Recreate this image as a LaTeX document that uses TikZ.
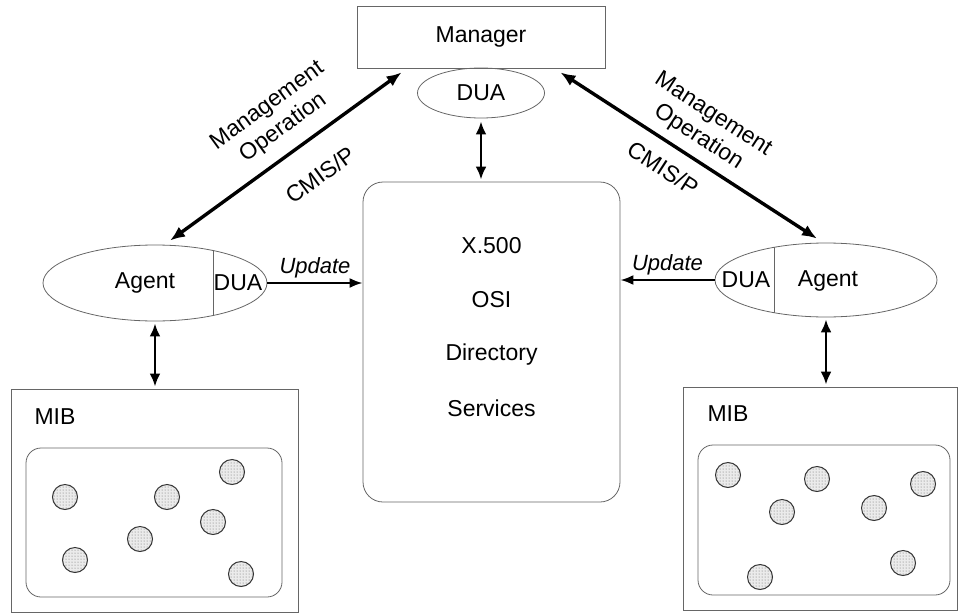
\documentclass[tikz,border=0pt]{standalone}
\usepackage{fontspec}
\setmainfont{Liberation Sans}
\usetikzlibrary{calc,patterns,shapes.geometric,arrows.meta}

\begin{document}
\begin{tikzpicture}[x=1pt, y=-1pt,
		font=\fontsize{23}{27}\selectfont,
		thinline/.style={draw=black!60, line width=0.8pt},
		box/.style={thinline, rectangle, inner sep=0pt},
		agentshape/.style={thinline, ellipse, inner sep=0pt, minimum width=224pt, minimum height=76pt},
		bigarrow/.style={line width=3.4pt, {Latex[length=15pt,width=12pt]}-{Latex[length=15pt,width=12pt]}},
		vertarrow/.style={line width=2.6pt, {Latex[length=13pt,width=11pt]}-{Latex[length=13pt,width=11pt]}},
		updarrow/.style={line width=2.2pt, -{Latex[length=13pt,width=10pt]}},
		mibobj/.style={draw=black!80, line width=1pt, fill=black!8, postaction={pattern=dots, pattern color=black!60}}]
			%%%%% START %%%%%
			\useasboundingbox (0, 0) rectangle (960, 613);
			
			% manager and its DUA
			\node[box, minimum width=248pt, minimum height=62pt] (manager) at (481, 37) {Manager};
			\node[thinline, ellipse, inner sep=0pt, minimum width=127pt, minimum height=50pt] (duaM) at (481, 93) {DUA};
			
			% directory
			\node[box, rounded corners=20pt, minimum width=257pt, minimum height=320pt] (dir) at (491.5, 342) {};
			\node (x500) at (491.5, 246) {X.500};
			\node (osi) at (491.5, 300) {OSI};
			\node (directory) at (491.5, 355) {Directory};
			\node (services) at (491.5, 408) {Services};
			\draw[vertarrow, shorten <=3pt, shorten >=2pt] (duaM.south) -- (duaM.south |- dir.north);
			
			% left agent
			\node[agentshape] (agentL) at (155, 283) {};
			\node (agentLtxt) at (145, 283) {Agent};
			\node (duaL) at (238, 283) {DUA};
			\begin{scope}
				\clip (agentL.center) ellipse [x radius=112, y radius=38];
				\draw[thinline] (213, 240) -- (213, 330);
			\end{scope}
			
			% right agent
			\node[agentshape, minimum width=222pt, minimum height=74pt] (agentR) at (826, 280) {};
			\node (agentRtxt) at (828, 281) {Agent};
			\node (duaR) at (746, 280) {DUA};
			\begin{scope}
				\clip (agentR.center) ellipse [x radius=111, y radius=37];
				\draw[thinline] (774, 235) -- (774, 325);
			\end{scope}
			
			% update arrows
			\draw[updarrow] (agentL.east) -- (agentL.east -| dir.west) node[midway, above=1pt, font=\fontsize{22}{26}\selectfont\itshape] {Update};
			\draw[updarrow] (agentR.west) -- (agentR.west -| dir.east) node[midway, above=1pt, font=\fontsize{22}{26}\selectfont\itshape] {Update};
			
			% management operations
			\draw[bigarrow] ($(agentL.north)+(15, -4)$) -- ($(manager.south west)+(45, 4)$);
			\node[rotate=36, align=center, inner sep=0pt] (mgmtL) at (275.5, 117) {Management\\Operation};
			\node[rotate=36, inner sep=0pt] (cmisL) at (320, 175) {CMIS/P};
			\draw[bigarrow] ($(manager.south east)+(-45, 4)$) -- ($(agentR.north)+(-9, -4)$);
			\node[rotate=-33, align=center, inner sep=0pt] (mgmtR) at (705.5, 126) {Management\\Operation};
			\node[rotate=-33, inner sep=0pt] (cmisR) at (663, 168) {CMIS/P};
			
			% left MIB
			\node[box, minimum width=287pt, minimum height=223pt] (mibL) at (154.5, 500.5) {};
			\node[anchor=west] (mibLtxt) at (31, 417) {MIB};
			\draw[thinline, rounded corners=15pt] (26, 448) rectangle (282, 597);
			\draw[vertarrow, shorten <=2pt, shorten >=2pt] (agentL.south) -- (agentL.south |- mibL.north);
			
			\draw[mibobj] (65, 497) circle (12.5);
			\draw[mibobj] (167, 497) circle (12.5);
			\draw[mibobj] (232, 472) circle (12.5);
			\draw[mibobj] (213, 522) circle (12.5);
			\draw[mibobj] (140, 539) circle (12.5);
			\draw[mibobj] (75, 560) circle (12.5);
			\draw[mibobj] (241, 574) circle (12.5);
			
			% right MIB
			\node[box, minimum width=274pt, minimum height=223pt] (mibR) at (820, 498.5) {};
			\node[anchor=west] (mibRtxt) at (704, 414) {MIB};
			\draw[thinline, rounded corners=15pt] (698, 445) rectangle (950, 595);
			\draw[vertarrow, shorten <=2pt, shorten >=2pt] (agentR.south) -- (agentR.south |- mibR.north);
			
			\draw[mibobj] (728, 475) circle (12.5);
			\draw[mibobj] (817, 479) circle (12.5);
			\draw[mibobj] (923, 484) circle (12.5);
			\draw[mibobj] (782, 512) circle (12.5);
			\draw[mibobj] (874, 508) circle (12.5);
			\draw[mibobj] (760, 577) circle (12.5);
			\draw[mibobj] (903, 563) circle (12.5);
			
			%%%%% END %%%%%
\end{tikzpicture}
\end{document}
